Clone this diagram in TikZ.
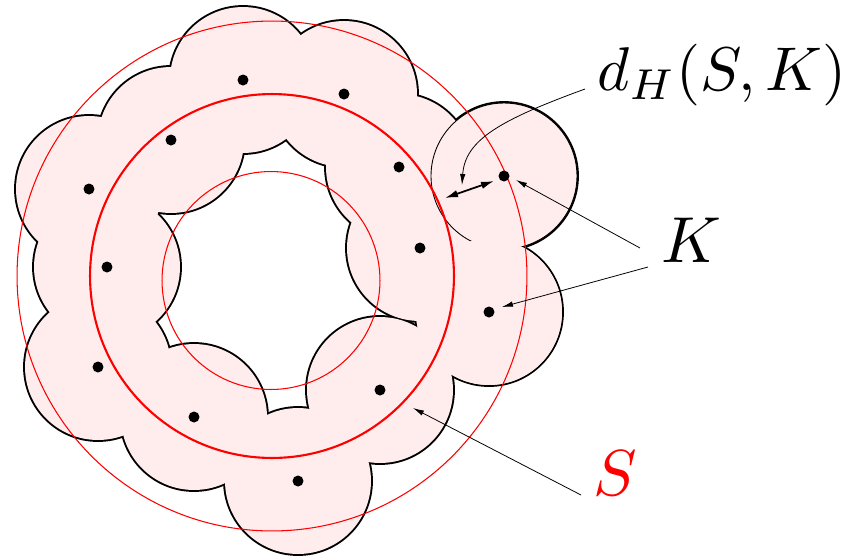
\documentclass[tikz,border=0pt]{standalone}
\usetikzlibrary{arrows.meta}
\tikzset{
  outline/.style={line width=2.2pt},
  diskfill/.style={fill=red!7},
  thinred/.style={draw=red, line width=0.6pt},
  thickred/.style={draw=red, line width=1.2pt},
  label/.style={inner sep=0pt, anchor=base west, font=\fontsize{10}{12}\selectfont, scale=3.7, transform shape},
  pointer/.style={line width=0.45pt, -{Latex[length=2.2mm,width=1.1mm]}},
  dbl/.style={line width=1pt, {Latex[length=2.6mm,width=1.5mm]}-{Latex[length=2.6mm,width=1.5mm]}}
}
\begin{document}
\begin{tikzpicture}[x=0.02cm,y=-0.02cm]
\useasboundingbox (0,0) rectangle (850,556);
\foreach \n/\x/\y in {1/243/80, 2/344/94, 3/171/140, 4/399/167, 5/89/189, 6/420/248, 7/504/176, 8/107/267, 9/489/312, 10/98/367, 11/380/390, 12/194/417, 13/298/481}
  \coordinate (k\n) at (\x,\y);
% union of disks: outline then fill
\foreach \n in {1,...,13} \draw[outline] (k\n) circle[radius=1.46cm];
\foreach \n in {1,...,13} \fill[diskfill] (k\n) circle[radius=1.46cm];
\draw[line width=0.5pt] (k7) circle[radius=1.46cm];
\fill[diskfill] (k9) circle[radius=1.46cm];
% S and its offsets
\coordinate (c) at (272,276);
\coordinate (ci) at (271,280.5);
\draw[thinred] (c) circle[radius=5.1cm];
\draw[thickred] (c) circle[radius=3.64cm];
\draw[thinred] (ci) circle[radius=2.18cm];
% points of K
\foreach \n in {1,...,13} \fill (k\n) circle[radius=0.11cm];
% labels
\node[label, scale=0.95] (dh) at (596,90) {$d_H(S,K)$};
\node[label] (K) at (660,262) {$K$};
\node[label, text=red] (S) at (592,495) {$S$};
% connectors
\coordinate (dhs) at (585,89);
\coordinate (dht) at (462,185);
\draw[pointer] (dhs) .. controls (500,120) and (465,140) .. (dht);
\coordinate (da) at (445,198);
\coordinate (db) at (494,181);
\draw[dbl] (da) -- (db);
\coordinate (ks1) at (640,248);
\coordinate (kt1) at (516,180);
\coordinate (ks2) at (648,267);
\coordinate (kt2) at (502,307);
\draw[pointer] (ks1) -- (kt1);
\draw[pointer] (ks2) -- (kt2);
\coordinate (ss) at (581,495);
\coordinate (st) at (413,408);
\draw[pointer] (ss) -- (st);
\end{tikzpicture}
\end{document}
